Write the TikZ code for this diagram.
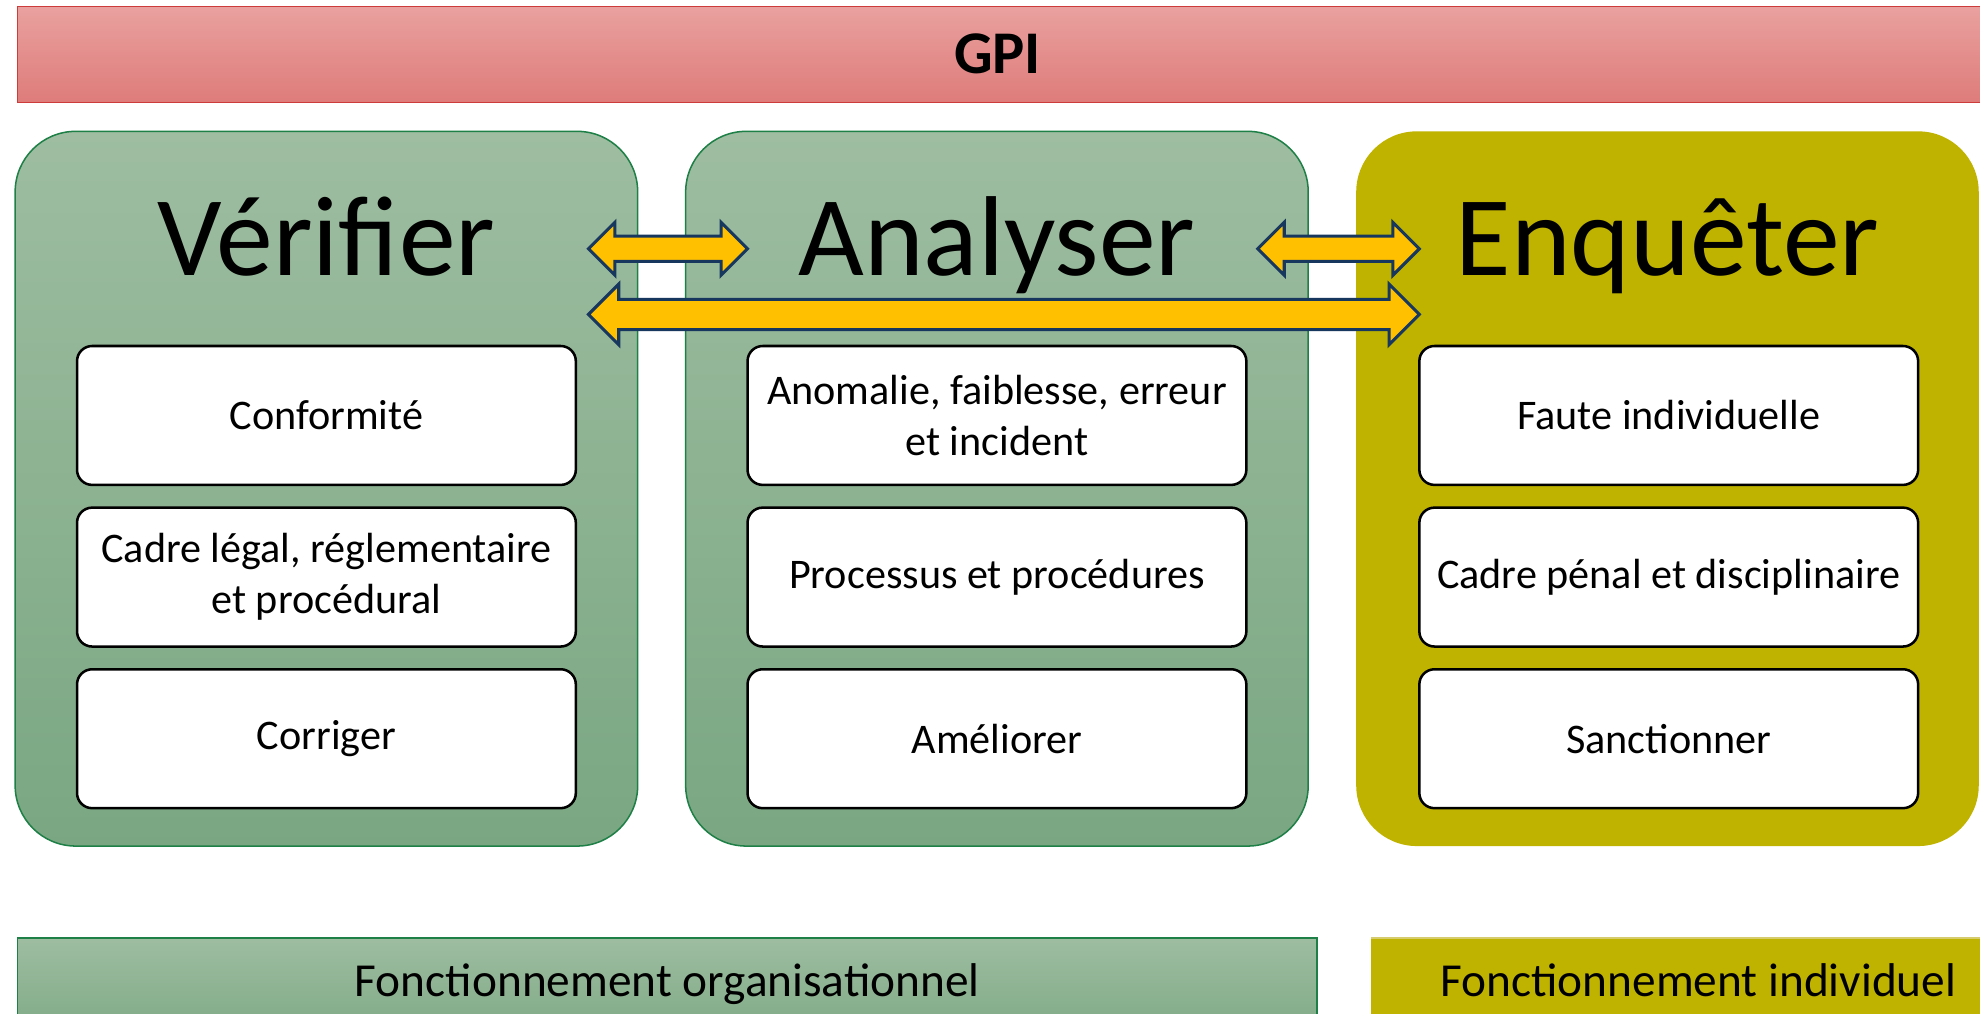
\documentclass[tikz,border=0pt]{standalone}
\usepackage{fontspec}
\setmainfont{Carlito}
\usetikzlibrary{positioning}
\definecolor{gpitop}{RGB}{233,161,159}
\definecolor{gpibot}{RGB}{222,124,122}
\definecolor{gpiline}{RGB}{205,60,58}
\definecolor{greentop}{RGB}{158,189,161}
\definecolor{greenbot}{RGB}{122,167,130}
\definecolor{greenline}{RGB}{30,128,70}
\definecolor{olive}{RGB}{191,179,0}
\definecolor{oliveline}{RGB}{214,204,110}
\definecolor{arrowfill}{RGB}{255,192,0}
\definecolor{arrowline}{RGB}{23,55,94}
\tikzset{
  bigbox/.style={rounded corners=48pt, minimum width=493pt, minimum height=566pt, line width=1.2pt},
  greenbox/.style={bigbox, draw=greenline, top color=greentop, bottom color=greenbot},
  olivebox/.style={bigbox, fill=olive},
  title/.style={anchor=base, font=\fontsize{90}{108}\selectfont},
  item/.style={draw=black, line width=2pt, fill=white, rounded corners=12pt, minimum width=395pt, minimum height=110pt, align=center, inner sep=0pt, font=\fontsize{33.4}{40.5}\selectfont},
  dblarrow/.style={draw=arrowline, fill=arrowfill, line width=2.4pt},
  bartext/.style={anchor=base, font=\fontsize{37.5}{45}\selectfont}
}
\begin{document}
\begin{tikzpicture}[x=1pt,y=-1pt]
\clip (0,0) rectangle (1568,803);
\fill[white] (0,0) rectangle (1568,803);
% top bar
\shade[top color=gpitop, bottom color=gpibot, draw=gpiline, line width=1.2pt] (14,5) rectangle (1590,81);
\node[font=\fontsize{48}{58}\selectfont\bfseries] (gpi) at (790,43) {GPI};
% columns
\node[greenbox] (verifier) at (258.5,387) {};
\node[greenbox] (analyser) at (789.5,387) {};
\node[olivebox] (enqueter) at (1320.5,387) {};
\node[title] (tverif) at (258.5,218) {Vérifier};
\node[title] (tanal) at (789.5,218) {Analyser};
\node[title] (tenq) at (1320.5,218) {Enquêter};
% items
\node[item] (conf) at (258.5,329) {Conformité};
\node[item, below=16pt of conf] (cadre) {Cadre légal, réglementaire\\et procédural};
\node[item, below=16pt of cadre] (corr) {Corriger};
\node[item] (anom) at (789.5,329) {Anomalie, faiblesse, erreur\\et incident};
\node[item, below=16pt of anom] (proc) {Processus et procédures};
\node[item, below=16pt of proc] (amel) {Améliorer};
\node[item] (faute) at (1321.5,329) {Faute individuelle};
\node[item, below=16pt of faute] (penal) {Cadre pénal et disciplinaire};
\node[item, below=16pt of penal] (sanc) {Sanctionner};
% arrows
\draw[dblarrow] (466,197) -- (487,176) -- (487,187) -- (571,187) -- (571,176) -- (592,197) -- (571,218) -- (571,207) -- (487,207) -- (487,218) -- cycle;
\draw[dblarrow] (996,197) -- (1017,176) -- (1017,187) -- (1103,187) -- (1103,176) -- (1124,197) -- (1103,218) -- (1103,207) -- (1017,207) -- (1017,218) -- cycle;
\draw[dblarrow] (466,249) -- (490,225) -- (490,237) -- (1100,237) -- (1100,225) -- (1124,249) -- (1100,273) -- (1100,261) -- (490,261) -- (490,273) -- cycle;
% bottom bars
\shade[top color=greentop, bottom color=greenbot, draw=greenline, line width=1.2pt] (14,743) rectangle (1043,830);
\node[bartext] (orga) at (528.5,789) {Fonctionnement organisationnel};
\fill[olive] (1086,743) rectangle (1590,830);
\draw[oliveline, line width=1.2pt] (1086,743) -- (1590,743);
\node[bartext] (indiv) at (1345,789) {Fonctionnement individuel};
\end{tikzpicture}
\end{document}
